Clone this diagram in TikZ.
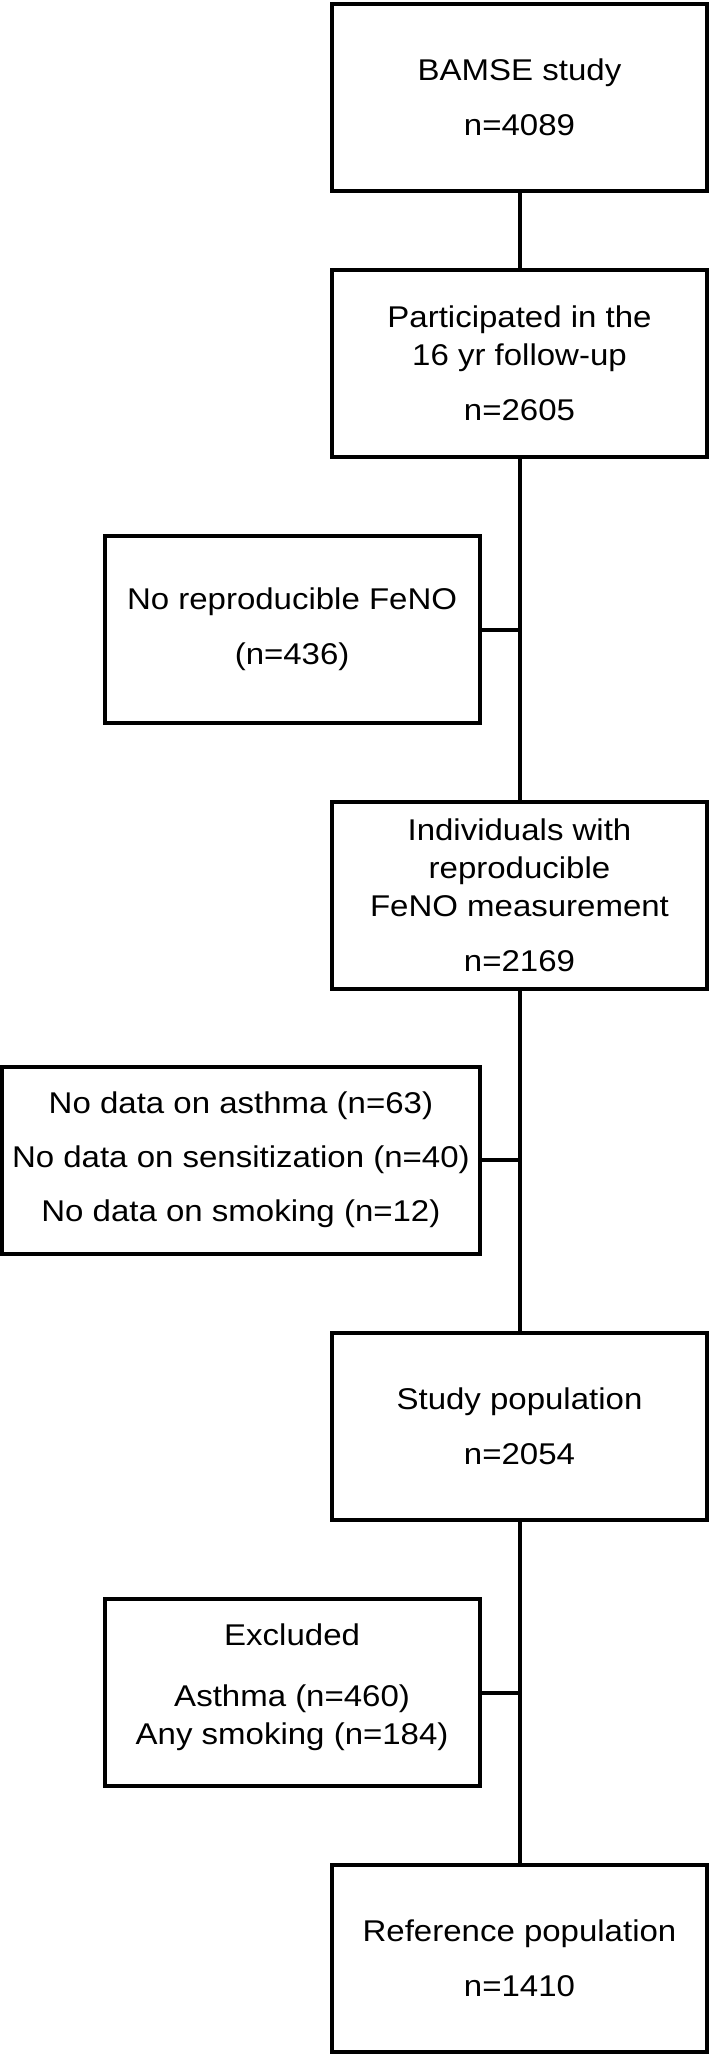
\documentclass[tikz,border=0pt]{standalone}
\usepackage{fontspec}
\setmainfont{Liberation Sans}[FakeStretch=1.10]
\begin{document}
\begin{tikzpicture}[x=1pt,y=-1pt,
  txt/.style={inner sep=0pt,outer sep=0pt,align=center,font=\fontsize{30}{38}\selectfont},
  box/.style={txt,draw=black,fill=white,line width=4pt,minimum width=375pt,minimum height=187pt},
  widebox/.style={box,minimum width=477.7pt},
  link/.style={draw=black,line width=4pt}]
\fill[white] (0,0) rectangle (713,2054);
\useasboundingbox (0,0) rectangle (713,2054);
\node[box] (bamse) at (519.5,97.5) {BAMSE study\\[17pt]n=4089};
\node[box] (part) at (519.5,363.5) {Participated in the\\16 yr follow-up\\[17pt]n=2605};
\node[box] (nofeno) at (292.1,629.5) {No reproducible FeNO\\[17pt](n=436)};
\node[box] (indiv) at (519.5,895) {Individuals with\\reproducible\\FeNO measurement\\[17pt]n=2169};
\node[widebox] (nodata) at (240.9,1160) {No data on asthma (n=63)\\[16pt]No data on sensitization (n=40)\\[16pt]No data on smoking (n=12)};
\node[box] (study) at (519.5,1426.5) {Study population\\[17pt]n=2054};
\node[box] (excl) at (292.1,1692.5) {};
\node[txt] (excltxt) at (292.1,1687) {Excluded\\[23pt]Asthma (n=460)\\Any smoking (n=184)};
\node[box] (ref) at (519.5,1958) {Reference population\\[17pt]n=1410};
\coordinate (j1) at (519.5,629.5);
\coordinate (j2) at (519.5,1160);
\coordinate (j3) at (519.5,1692.5);
\draw[link] (bamse) -- (part);
\draw[link] (part) -- (indiv);
\draw[link] (indiv) -- (study);
\draw[link] (study) -- (ref);
\draw[link] (nofeno.east) -- (j1);
\draw[link] (nodata.east) -- (j2);
\draw[link] (excl.east) -- (j3);
\end{tikzpicture}
\end{document}
